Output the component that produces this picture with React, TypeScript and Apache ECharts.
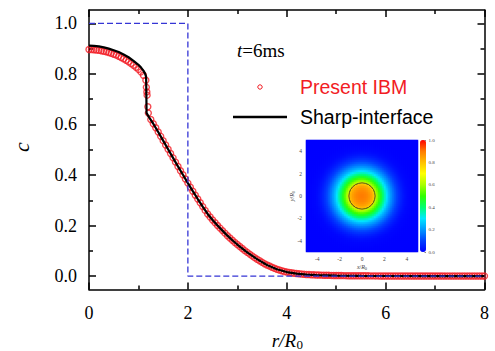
import React, { useEffect, useRef } from 'react';
import * as echarts from 'echarts';

// ---------- data ----------
const xTicks = [0, 2, 4, 6, 8];
const yTicks = [0, 0.2, 0.4, 0.6, 0.8, 1.0];
const yMinorTicks = [0.1, 0.3, 0.5, 0.7, 0.9];

// initial condition (blue dashed)
const rInit = [0, 2, 2, 8];
const cInit = [1, 1, 0, 0];

// Sharp-interface (black line)
const rSharp = [0, 0.1, 0.2, 0.3, 0.4, 0.5, 0.6, 0.7, 0.8, 0.9, 1.0, 1.05, 1.1, 1.13, 1.155, 1.165, 1.21,
  1.3, 1.4, 1.5, 1.6, 1.7, 1.8, 1.9, 2.0, 2.1, 2.2, 2.3, 2.4, 2.5, 2.6, 2.7, 2.8, 2.9, 3.0,
  3.2, 3.4, 3.6, 3.8, 4.0, 4.2, 4.4, 4.6, 4.8, 5.0, 5.5, 6.0, 7.0, 8.0];
const cSharp = [0.912, 0.911, 0.909, 0.905, 0.900, 0.894, 0.887, 0.877, 0.866, 0.852, 0.836, 0.826, 0.813, 0.803, 0.789, 0.645, 0.630,
  0.603, 0.570, 0.536, 0.502, 0.468, 0.434, 0.401, 0.368, 0.336, 0.305, 0.275, 0.246, 0.222, 0.200, 0.180, 0.160, 0.142, 0.125,
  0.094, 0.067, 0.044, 0.027, 0.016, 0.010, 0.006, 0.004, 0.003, 0.002, 0.001, 0.0005, 0.0002, 0.0001];

// Present IBM (red circles)
const rIBM = [
  0, 0.05, 0.1, 0.15, 0.2, 0.25, 0.3, 0.35, 0.4, 0.45, 0.5, 0.55, 0.6, 0.65, 0.7, 0.75, 0.8, 0.85, 0.9, 0.95, 1.0, 1.05, 1.1, 1.15,
  1.16, 1.17, 1.175, 1.19, 1.2,
  1.25, 1.3, 1.35, 1.4, 1.45, 1.5, 1.55, 1.6, 1.65, 1.7, 1.75, 1.8, 1.85, 1.9, 1.95, 2.0, 2.05, 2.1, 2.15, 2.2,
  2.25, 2.3, 2.35, 2.4, 2.45, 2.5, 2.55, 2.6, 2.65, 2.7, 2.75, 2.8, 2.85, 2.9, 2.95, 3.0, 3.05, 3.1, 3.15, 3.2,
  3.25, 3.3, 3.35, 3.4, 3.45, 3.5, 3.55, 3.6, 3.65, 3.7, 3.75, 3.8, 3.85, 3.9, 3.95, 4.0, 4.05, 4.1, 4.15, 4.2,
  4.25, 4.3, 4.35, 4.4, 4.45, 4.5,
  4.55, 4.6, 4.65, 4.7, 4.75, 4.8, 4.85, 4.9, 4.95, 5.0, 5.05, 5.1, 5.15, 5.2, 5.25, 5.3, 5.35, 5.4, 5.45, 5.5,
  5.55, 5.6, 5.65, 5.7, 5.75, 5.8, 5.85, 5.9, 5.95, 6.0, 6.05, 6.1, 6.15, 6.2, 6.25, 6.3, 6.35, 6.4, 6.45, 6.5,
  6.55, 6.6, 6.65, 6.7, 6.75, 6.8, 6.85, 6.9, 6.95, 7.0, 7.05, 7.1, 7.15, 7.2, 7.25, 7.3, 7.35, 7.4, 7.45, 7.5,
  7.55, 7.6, 7.65, 7.7, 7.75, 7.8, 7.85, 7.9, 7.95, 8.0];
const cIBM = [
  0.897, 0.897, 0.896, 0.895, 0.894, 0.892, 0.890, 0.888, 0.885, 0.882, 0.878, 0.875, 0.870, 0.865, 0.860, 0.854, 0.848, 0.841, 0.834, 0.826, 0.818, 0.808, 0.795, 0.775,
  0.747, 0.729, 0.716, 0.670, 0.645,
  0.620, 0.603, 0.587, 0.570, 0.553, 0.536, 0.519, 0.502, 0.485, 0.468, 0.451, 0.434, 0.417, 0.401, 0.384, 0.368, 0.352, 0.336, 0.320, 0.305,
  0.290, 0.275, 0.260, 0.246, 0.234, 0.222, 0.211, 0.200, 0.190, 0.180, 0.170, 0.160, 0.151, 0.142, 0.133, 0.125, 0.117, 0.109, 0.101, 0.094,
  0.087, 0.080, 0.073, 0.067, 0.061, 0.055, 0.049, 0.044, 0.040, 0.035, 0.031, 0.027, 0.024, 0.021, 0.018, 0.016, 0.014, 0.013, 0.011, 0.010,
  0.009, 0.008, 0.007, 0.006, 0.006, 0.0055,
  0.0050, 0.0045, 0.0042, 0.0039, 0.0036, 0.0033, 0.0030, 0.0028, 0.0026, 0.0024, 0.0022, 0.0021, 0.0019, 0.0018, 0.0017, 0.0016, 0.0015, 0.0014, 0.0013, 0.0012,
  0.0011, 0.0011, 0.0010, 0.0009, 0.0009, 0.0008, 0.0008, 0.0007, 0.0007, 0.0006, 0.0006, 0.0006, 0.0005, 0.0005, 0.0005, 0.0004, 0.0004, 0.0004, 0.0004, 0.0003,
  0.0003, 0.0003, 0.0003, 0.0003, 0.0002, 0.0002, 0.0002, 0.0002, 0.0002, 0.0002, 0.0002, 0.0002, 0.0002, 0.0001, 0.0001, 0.0001, 0.0001, 0.0001, 0.0001, 0.0001,
  0.0001, 0.0001, 0.0001, 0.0001, 0.0001, 0.0001, 0.0001, 0.0001, 0.0001, 0.0001];

// inset
const interfaceRadius = 1.17;
const insetCells = 56;
const insetMin = -5;
const insetMax = 5;
const rainbow = ['#0000ff', '#0040ff', '#0098ff', '#00e8ff', '#00ff70', '#30ff00', '#a8ff00', '#ffff00', '#ffc000', '#ff7a00', '#ff0000'];

// ---------- helpers ----------
const serif = 'Liberation Serif';
const sans = 'Liberation Sans';

function interp(rs: number[], cs: number[], r: number) {
  if (r <= rs[0]) return cs[0];
  for (let i = 1; i < rs.length; i++) {
    if (r <= rs[i]) {
      const t = (r - rs[i - 1]) / (rs[i] - rs[i - 1] || 1);
      return cs[i - 1] + t * (cs[i] - cs[i - 1]);
    }
  }
  return cs[cs.length - 1];
}

function buildHeat() {
  const out: number[][] = [];
  const step = (insetMax - insetMin) / insetCells;
  for (let i = 0; i < insetCells; i++) {
    for (let j = 0; j < insetCells; j++) {
      const x = insetMin + (i + 0.5) * step;
      const y = insetMin + (j + 0.5) * step;
      out.push([i, j, interp(rIBM, cIBM, Math.hypot(x, y))]);
    }
  }
  return out;
}

const zip = (a: number[], b: number[]) => a.map((v, i) => [v, b[i]]);

const Y_MIN = -0.053;
const Y_MAX = 1.053;

function buildOption() {
  const cats = Array.from({ length: insetCells }, (_, i) => String(i));
  const axisLineStyle = { color: '#000', width: 1.5 };
  const yBase: any = { type: 'value', gridIndex: 0, min: Y_MIN, max: Y_MAX, splitLine: { show: false } };
  const xBase: any = { type: 'value', gridIndex: 0, min: xTicks[0], max: xTicks[xTicks.length - 1], interval: 2, splitLine: { show: false } };
  const insetLabel = (v: number) => (Math.abs(v) < 5 && v % 2 === 0 ? String(v) : '');
  return {
    animation: false,
    backgroundColor: '#fff',
    grid: [
      { left: 89, right: 10.5, top: 10, bottom: 61.5 },
      { left: 306, top: 140, width: 112, height: 112 },
      { left: 306, top: 140, width: 112, height: 112 },
      { left: 420, top: 140, width: 6, height: 112 },
    ],
    xAxis: [
      {
        ...xBase, position: 'bottom',
        axisLine: { show: true, onZero: false, lineStyle: axisLineStyle },
        axisTick: { show: true, inside: true, length: 7, lineStyle: axisLineStyle },
        minorTick: { show: true, splitNumber: 2, length: 4, lineStyle: { color: '#000', width: 1.5 } },
        axisLabel: { show: true, fontFamily: serif, fontSize: 18, color: '#000', margin: 14 },
      },
      {
        ...xBase, position: 'top',
        axisLine: { show: true, onZero: false, lineStyle: axisLineStyle },
        axisTick: { show: true, inside: true, length: 7, lineStyle: axisLineStyle },
        minorTick: { show: true, splitNumber: 2, length: 4, lineStyle: { color: '#000', width: 1.5 } },
        axisLabel: { show: false },
      },
      { type: 'category', gridIndex: 1, data: cats, show: false },
      {
        type: 'value', gridIndex: 2, min: insetMin, max: insetMax, interval: 1,
        axisLine: { show: false, onZero: false }, axisTick: { show: false }, splitLine: { show: false },
        axisLabel: { fontFamily: serif, fontSize: 5.5, color: '#444', margin: 4, formatter: insetLabel },
      },
      { type: 'value', gridIndex: 3, min: 0, max: 1, show: false },
    ],
    yAxis: [
      {
        ...yBase, position: 'left',
        axisLine: { show: true, onZero: false, lineStyle: axisLineStyle },
        axisTick: { show: true, inside: true, length: 7, customValues: yTicks, lineStyle: axisLineStyle },
        axisLabel: {
          show: true, customValues: yTicks, fontFamily: serif, fontSize: 18, color: '#000', margin: 12,
          formatter: (v: number) => v.toFixed(1),
        },
      },
      {
        ...yBase, position: 'left',
        axisLine: { show: false, onZero: false },
        axisTick: { show: true, inside: true, length: 4, customValues: yMinorTicks, lineStyle: axisLineStyle },
        axisLabel: { show: false },
      },
      {
        ...yBase, position: 'right',
        axisLine: { show: true, onZero: false, lineStyle: axisLineStyle },
        axisTick: { show: true, inside: true, length: 7, customValues: yTicks, lineStyle: axisLineStyle },
        axisLabel: { show: false },
      },
      {
        ...yBase, position: 'right',
        axisLine: { show: false, onZero: false },
        axisTick: { show: true, inside: true, length: 4, customValues: yMinorTicks, lineStyle: axisLineStyle },
        axisLabel: { show: false },
      },
      { type: 'category', gridIndex: 1, data: cats, show: false },
      {
        type: 'value', gridIndex: 2, min: insetMin, max: insetMax, interval: 1,
        axisLine: { show: false, onZero: false }, axisTick: { show: false }, splitLine: { show: false },
        axisLabel: { fontFamily: serif, fontSize: 5.5, color: '#444', margin: 4, formatter: insetLabel },
      },
      {
        type: 'value', gridIndex: 3, min: 0, max: 1, interval: 0.2, position: 'right',
        axisLine: { show: false, onZero: false }, splitLine: { show: false },
        axisTick: { show: true, inside: true, length: 1.5, lineStyle: { color: '#333', width: 0.6 } },
        axisLabel: { fontFamily: serif, fontSize: 5, color: '#444', margin: 2.5, formatter: (v: number) => v.toFixed(1) },
      },
    ],
    visualMap: {
      type: 'continuous', seriesIndex: 3, min: 0, max: 1, calculable: false, show: true,
      orient: 'vertical', left: 420, top: 140, itemWidth: 6, itemHeight: 112, padding: 0,
      text: null, showLabel: false,
      inRange: { color: rainbow },
    },
    series: [
      {
        type: 'scatter', name: 'Present IBM', xAxisIndex: 0, yAxisIndex: 0,
        data: zip(rIBM, cIBM), symbol: 'circle', symbolSize: 6,
        itemStyle: { color: 'rgba(0,0,0,0)', borderColor: '#f21c24', borderWidth: 1.4 },
        emphasis: { disabled: true }, silent: true, z: 2,
      },
      {
        type: 'line', name: 'Sharp-interface', xAxisIndex: 0, yAxisIndex: 0,
        data: zip(rSharp, cSharp), showSymbol: false, symbol: 'none',
        lineStyle: { color: '#000', width: 2.2 }, silent: true, z: 3,
      },
      {
        type: 'line', name: 'Initial', xAxisIndex: 0, yAxisIndex: 0,
        data: zip(rInit, cInit), showSymbol: false, symbol: 'none',
        lineStyle: { color: '#3535d5', width: 1.3, type: [6, 3] }, silent: true, z: 4,
      },
      {
        type: 'heatmap', xAxisIndex: 2, yAxisIndex: 4, data: buildHeat(),
        itemStyle: { borderWidth: 0 }, emphasis: { disabled: true }, silent: true, progressive: 0,
      },
      {
        type: 'custom', xAxisIndex: 3, yAxisIndex: 5, data: [[0, 0]], silent: true, z: 5,
        renderItem: (params: any, api: any) => {
          const c = api.coord([api.value(0), api.value(1)]);
          const rr = api.size([interfaceRadius, 0])[0];
          return {
            type: 'circle', shape: { cx: c[0], cy: c[1], r: rr },
            style: { fill: 'none', stroke: '#222', lineWidth: 0.8 },
          };
        },
      },
    ],
    graphic: [
      {
        type: 'text', x: 237, y: 50,
        style: {
          text: '{i|t}=6ms', fontFamily: serif, fontSize: 19, fill: '#000',
          align: 'left', verticalAlign: 'middle', textAlign: 'left', textVerticalAlign: 'middle',
          rich: { i: { fontFamily: serif, fontSize: 19, fontStyle: 'italic', fill: '#000' } },
        },
      },
      { type: 'circle', shape: { cx: 260, cy: 87, r: 2.2 }, style: { fill: 'none', stroke: '#f21c24', lineWidth: 1 } },
      {
        type: 'text', x: 300, y: 87,
        style: {
          text: 'Present IBM', fontFamily: sans, fontSize: 19.5, fill: '#f21c24',
          align: 'left', verticalAlign: 'middle', textAlign: 'left', textVerticalAlign: 'middle',
        },
      },
      { type: 'line', shape: { x1: 233, y1: 117, x2: 287, y2: 117 }, style: { stroke: '#000', lineWidth: 2.5 } },
      {
        type: 'text', x: 300, y: 117,
        style: {
          text: 'Sharp-interface', fontFamily: sans, fontSize: 19.5, fill: '#000',
          align: 'left', verticalAlign: 'middle', textAlign: 'left', textVerticalAlign: 'middle',
        },
      },
      {
        type: 'text', x: 21, y: 147, rotation: Math.PI / 2,
        style: {
          text: 'c', fontFamily: serif, fontSize: 22, fontStyle: 'italic', fill: '#000',
          align: 'center', verticalAlign: 'middle', textAlign: 'center', textVerticalAlign: 'middle',
        },
      },
      {
        type: 'text', x: 296, y: 350,
        style: {
          text: 'r/R', fontFamily: serif, fontSize: 19, fontStyle: 'italic', fill: '#000',
          align: 'right', verticalAlign: 'bottom', textAlign: 'right', textVerticalAlign: 'bottom',
        },
      },
      {
        type: 'text', x: 296.5, y: 350.5,
        style: {
          text: '0', fontFamily: serif, fontSize: 13, fill: '#000',
          align: 'left', verticalAlign: 'bottom', textAlign: 'left', textVerticalAlign: 'bottom',
        },
      },
      {
        type: 'text', x: 362, y: 267,
        style: {
          text: '{i|x}/{i|R}{s|0}', fontFamily: serif, fontSize: 6, fill: '#444',
          align: 'center', verticalAlign: 'middle', textAlign: 'center', textVerticalAlign: 'middle',
          rich: {
            i: { fontFamily: serif, fontSize: 6, fontStyle: 'italic', fill: '#444' },
            s: { fontFamily: serif, fontSize: 4.5, fill: '#444', padding: [3, 0, 0, 0] },
          },
        },
      },
      {
        type: 'text', x: 292, y: 196, rotation: Math.PI / 2,
        style: {
          text: '{i|y}/{i|R}{s|0}', fontFamily: serif, fontSize: 6, fill: '#444',
          align: 'center', verticalAlign: 'middle', textAlign: 'center', textVerticalAlign: 'middle',
          rich: {
            i: { fontFamily: serif, fontSize: 6, fontStyle: 'italic', fill: '#444' },
            s: { fontFamily: serif, fontSize: 4.5, fill: '#444', padding: [3, 0, 0, 0] },
          },
        },
      },
    ],
  };
}

export default function App() {
  const ref = useRef<HTMLDivElement>(null);
  useEffect(() => {
    document.body.style.margin = '0';
    const chart = echarts.init(ref.current as HTMLDivElement, null, { renderer: 'svg' });
    chart.setOption(buildOption() as any);
    return () => chart.dispose();
  }, []);
  return <div ref={ref} style={{ width: 495, height: 351 }} />;
}
